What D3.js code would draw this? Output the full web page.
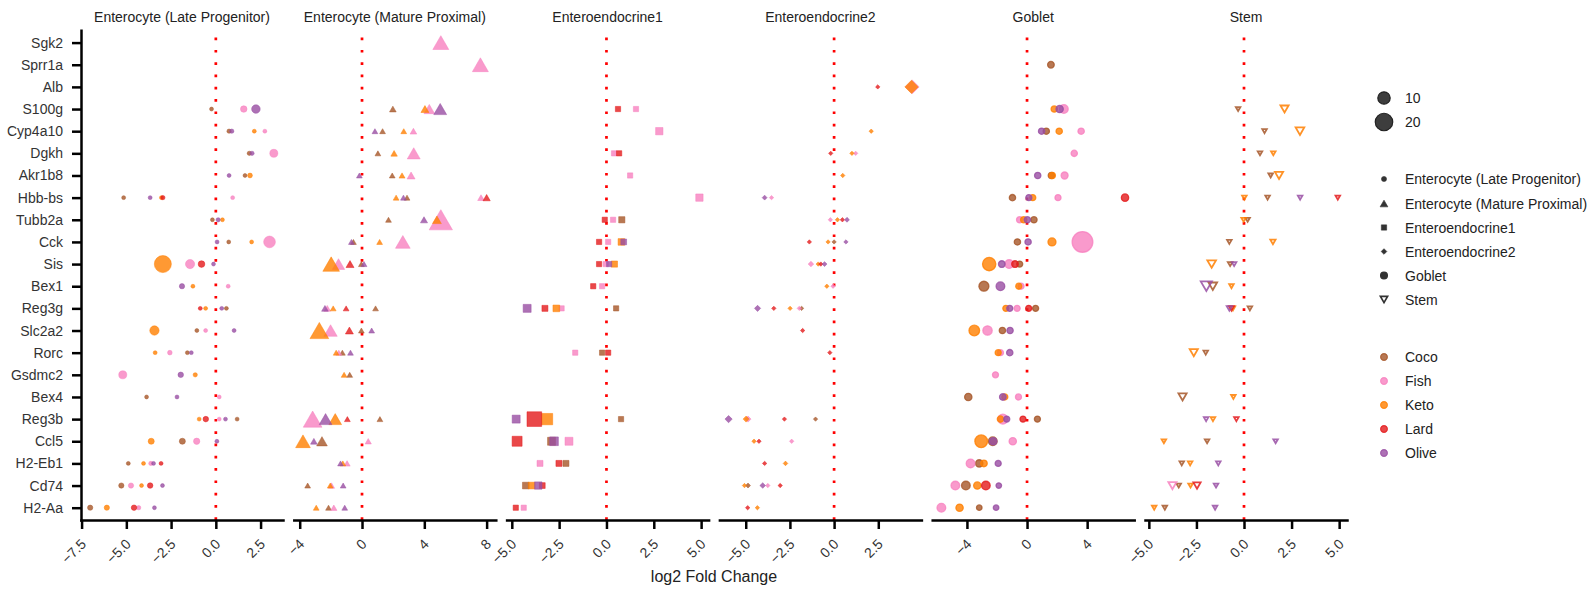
<!DOCTYPE html>
<html>
<head>
<meta charset="utf-8">
<script src="https://cdn.jsdelivr.net/npm/d3@7"></script>
<style>
  body { margin: 0; background: #fff; }
  text { font-family: "Liberation Sans", Arial, Helvetica, sans-serif; fill: #222; }
</style>
</head>
<body>
<svg id="chart" width="1589" height="592"></svg>
<script>
// ---- data ---------------------------------------------------------------
const genes = ["Sgk2","Sprr1a","Alb","S100g","Cyp4a10","Dgkh","Akr1b8","Hbb-bs","Tubb2a","Cck","Sis",
  "Bex1","Reg3g","Slc2a2","Rorc","Gsdmc2","Bex4","Reg3b","Ccl5","H2-Eb1","Cd74","H2-Aa"];
const diets = ["Coco","Fish","Keto","Lard","Olive"];
const dietColors = ["#a65628","#f781bf","#ff7f00","#e41a1c","#984ea3"];
const cellTypes = ["Enterocyte (Late Progenitor)","Enterocyte (Mature Proximal)","Enteroendocrine1",
  "Enteroendocrine2","Goblet","Stem"];
const sizeLegendValues = [10, 20];
const xTickValues = [
  [-7.5,-5,-2.5,0,2.5],
  [-4,0,4,8],
  [-5,-2.5,0,2.5,5],
  [-5,-2.5,0,2.5],
  [-4,0,4],
  [-5,-2.5,0,2.5,5]
];
const xAxisTitle = "log2 Fold Change";

// rows: [gene, diet, log2 fold change, size]
const lateProgenitor = [
  ["S100g","Coco",-0.24,1.0],["S100g","Fish",1.56,2.8],["S100g","Olive",2.24,4.8],
  ["Cyp4a10","Coco",0.74,1.2],["Cyp4a10","Olive",0.89,1.2],["Cyp4a10","Keto",2.15,1.0],["Cyp4a10","Fish",2.74,1.0],
  ["Dgkh","Coco",1.87,1.2],["Dgkh","Olive",2.02,1.2],["Dgkh","Fish",3.24,4.2],
  ["Akr1b8","Olive",0.74,1.0],["Akr1b8","Coco",1.63,1.0],["Akr1b8","Keto",1.91,1.5],
  ["Hbb-bs","Coco",-5.15,1.0],["Hbb-bs","Olive",-3.67,1.0],["Hbb-bs","Keto",-3.04,1.0],["Hbb-bs","Lard",-2.96,1.2],["Hbb-bs","Fish",0.94,1.0],
  ["Tubb2a","Coco",-0.19,1.0],["Tubb2a","Olive",0.13,1.2],["Tubb2a","Keto",0.37,1.0],
  ["Cck","Olive",0.07,1.0],["Cck","Coco",0.72,1.0],["Cck","Keto",2.0,1.0],["Cck","Fish",3.0,9.0],
  ["Sis","Keto",-2.96,19],["Sis","Fish",-1.44,5.5],["Sis","Lard",-0.8,2.9],["Sis","Olive",-0.13,1.0],
  ["Bex1","Olive",-1.89,1.8],["Bex1","Keto",-1.28,1.0],["Bex1","Fish",0.69,1.0],
  ["Reg3g","Lard",-0.87,1.0],["Reg3g","Keto",-0.57,1.0],["Reg3g","Olive",0.33,1.0],["Reg3g","Coco",0.59,1.0],
  ["Slc2a2","Keto",-3.43,5.7],["Slc2a2","Coco",-1.06,1.0],["Slc2a2","Fish",-0.57,1.0],["Slc2a2","Olive",1.02,1.0],
  ["Rorc","Keto",-3.39,1.0],["Rorc","Fish",-2.57,1.4],["Rorc","Coco",-1.59,1.0],["Rorc","Olive",-1.37,1.0],
  ["Gsdmc2","Fish",-5.2,4.2],["Gsdmc2","Olive",-1.96,2.0],["Gsdmc2","Keto",-1.15,1.2],
  ["Bex4","Coco",-3.87,1.0],["Bex4","Olive",-2.17,1.0],["Bex4","Fish",0.19,1.0],
  ["Reg3b","Keto",-0.93,1.0],["Reg3b","Lard",-0.56,2.0],["Reg3b","Fish",0.19,1.0],["Reg3b","Olive",0.54,1.0],["Reg3b","Coco",1.19,1.0],
  ["Ccl5","Keto",-3.61,2.4],["Ccl5","Coco",-1.87,2.4],["Ccl5","Fish",-1.07,2.6],["Ccl5","Olive",0.06,1.0],
  ["H2-Eb1","Coco",-4.89,1.0],["H2-Eb1","Keto",-4.04,1.0],["H2-Eb1","Fish",-3.63,1.2],["H2-Eb1","Olive",-3.48,1.0],["H2-Eb1","Lard",-3.06,1.0],
  ["Cd74","Coco",-5.28,1.8],["Cd74","Fish",-4.74,1.8],["Cd74","Keto",-4.15,1.0],["Cd74","Lard",-3.67,2.0],["Cd74","Olive",-2.98,1.0],
  ["H2-Aa","Coco",-7.02,1.8],["H2-Aa","Keto",-6.09,1.8],["H2-Aa","Lard",-4.57,2.0],["H2-Aa","Fish",-4.31,1.2],["H2-Aa","Olive",-3.43,1.0]
];

const matureProximal = [
  ["Sgk2","Fish",5.06,9.2],
  ["Sprr1a","Fish",7.6,9.2],
  ["S100g","Coco",1.98,1.6],["S100g","Keto",4.04,2.3],["S100g","Fish",4.32,4.1],["S100g","Olive",5.02,6.0],
  ["Cyp4a10","Olive",0.83,1.2],["Cyp4a10","Coco",1.32,1.2],["Cyp4a10","Keto",2.68,1.2],["Cyp4a10","Fish",3.3,1.6],
  ["Dgkh","Coco",1.02,1.2],["Dgkh","Keto",2.06,1.5],["Dgkh","Fish",3.32,6.0],
  ["Akr1b8","Olive",-0.17,1.2],["Akr1b8","Coco",1.94,1.2],["Akr1b8","Keto",2.57,1.3],["Akr1b8","Fish",3.15,2.3],
  ["Hbb-bs","Keto",2.19,1.2],["Hbb-bs","Olive",2.66,1.2],["Hbb-bs","Coco",2.89,1.2],["Hbb-bs","Fish",7.64,1.6],["Hbb-bs","Lard",8.0,1.9],
  ["Tubb2a","Coco",1.7,1.2],["Tubb2a","Olive",3.98,1.8],["Tubb2a","Fish",5.06,19.6],["Tubb2a","Keto",4.81,2.8],
  ["Cck","Olive",-0.68,1.2],["Cck","Coco",-0.55,1.2],["Cck","Keto",1.13,1.2],["Cck","Fish",2.62,7.8],
  ["Sis","Keto",-1.98,10],["Sis","Fish",-1.51,5.5],["Sis","Lard",-0.77,2.3],["Sis","Coco",-0.04,1.2],["Sis","Olive",0.13,1.2],
  ["Reg3g","Olive",-2.38,1.6],["Reg3g","Fish",-2.23,1.6],["Reg3g","Keto",-1.85,1.2],["Reg3g","Lard",-1.02,1.2],["Reg3g","Coco",0.87,1.2],
  ["Slc2a2","Keto",-2.74,12.6],["Slc2a2","Fish",-2.02,6.4],["Slc2a2","Lard",-0.81,2.3],["Slc2a2","Coco",-0.04,1.2],["Slc2a2","Olive",0.62,1.2],
  ["Rorc","Keto",-1.66,1.2],["Rorc","Fish",-1.49,1.2],["Rorc","Coco",-1.26,1.2],["Rorc","Olive",-0.74,1.2],
  ["Gsdmc2","Keto",-1.15,1.2],["Gsdmc2","Coco",-0.79,1.2],
  ["Reg3b","Fish",-3.17,12.6],["Reg3b","Olive",-2.34,5.8],["Reg3b","Keto",-1.72,5.8],["Reg3b","Lard",-0.94,1.2],["Reg3b","Coco",1.15,1.2],
  ["Ccl5","Keto",-3.79,7.8],["Ccl5","Olive",-3.09,1.6],["Ccl5","Coco",-2.57,4.1],["Ccl5","Fish",0.4,1.4],
  ["H2-Eb1","Olive",-1.38,1.2],["H2-Eb1","Keto",-1.23,1.2],["H2-Eb1","Fish",-0.96,1.4],
  ["Cd74","Coco",-3.49,1.2],["Cd74","Keto",-2.04,1.2],["Cd74","Fish",-1.96,1.4],["Cd74","Olive",-1.21,1.2],
  ["H2-Aa","Keto",-2.94,1.2],["H2-Aa","Coco",-2.15,1.2],["H2-Aa","Fish",-1.81,1.4],["H2-Aa","Olive",-1.11,1.2]
];

const enteroendocrine1 = [
  ["S100g","Lard",0.61,2.3],["S100g","Fish",1.56,2.3],
  ["Cyp4a10","Fish",2.79,4.5],
  ["Dgkh","Fish",0.4,2.3],["Dgkh","Lard",0.67,2.3],
  ["Akr1b8","Fish",1.25,2.3],
  ["Hbb-bs","Fish",4.91,4.5],
  ["Tubb2a","Lard",-0.09,2.3],["Tubb2a","Fish",0.35,2.3],["Tubb2a","Coco",0.81,3.2],
  ["Cck","Lard",-0.39,2.3],["Cck","Fish",0.09,2.3],["Cck","Keto",0.79,3.7],["Cck","Olive",0.91,2.8],
  ["Sis","Lard",-0.39,2.3],["Sis","Fish",-0.04,2.3],["Sis","Olive",0.14,2.3],["Sis","Keto",0.42,3.2],
  ["Bex1","Lard",-0.7,2.3],["Bex1","Fish",-0.23,2.3],
  ["Reg3g","Olive",-4.19,5.3],["Reg3g","Lard",-3.25,3.0],["Reg3g","Keto",-2.65,3.7],["Reg3g","Fish",-2.37,2.3],["Reg3g","Coco",0.51,2.3],
  ["Rorc","Fish",-1.65,2.3],["Rorc","Coco",-0.23,2.3],["Rorc","Lard",0.09,2.3],
  ["Reg3b","Olive",-4.77,5.3],["Reg3b","Lard",-3.81,18],["Reg3b","Keto",-3.14,10.7],["Reg3b","Coco",0.77,2.3],
  ["Ccl5","Lard",-4.72,8.3],["Ccl5","Coco",-2.9,5.3],["Ccl5","Olive",-2.77,6.3],["Ccl5","Fish",-1.98,5.3],
  ["H2-Eb1","Fish",-3.51,3.0],["H2-Eb1","Lard",-2.51,3.0],["H2-Eb1","Coco",-2.14,3.0],
  ["Cd74","Coco",-4.26,3.7],["Cd74","Keto",-3.95,3.7],["Cd74","Olive",-3.6,4.5],["Cd74","Lard",-3.39,2.8],
  ["H2-Aa","Lard",-4.79,2.3],["H2-Aa","Fish",-4.37,2.3]
];

const enteroendocrine2 = [
  ["Alb","Lard",2.47,0.8],["Alb","Fish",4.42,8.0],["Alb","Keto",4.38,7.4],
  ["Cyp4a10","Keto",2.1,0.8],
  ["Dgkh","Lard",-0.19,0.8],["Dgkh","Keto",1.01,0.8],["Dgkh","Fish",1.22,0.8],
  ["Akr1b8","Keto",0.49,0.8],
  ["Hbb-bs","Olive",-3.93,1.0],["Hbb-bs","Fish",-3.54,0.8],
  ["Tubb2a","Fish",-0.21,0.8],["Tubb2a","Keto",0.19,0.8],["Tubb2a","Lard",0.47,0.8],["Tubb2a","Olive",0.73,1.0],
  ["Cck","Lard",-1.4,0.8],["Cck","Keto",-0.34,0.8],["Cck","Coco",0.0,0.8],["Cck","Olive",0.67,0.8],
  ["Sis","Fish",-1.31,1.3],["Sis","Keto",-0.9,0.8],["Sis","Lard",-0.75,0.8],["Sis","Olive",-0.54,1.0],
  ["Bex1","Keto",-0.41,0.8],["Bex1","Fish",-0.06,0.8],
  ["Reg3g","Olive",-4.33,1.6],["Reg3g","Lard",-3.41,0.8],["Reg3g","Keto",-2.49,0.8],["Reg3g","Fish",-1.97,0.8],["Reg3g","Coco",-1.84,0.8],
  ["Slc2a2","Lard",-1.78,0.8],
  ["Rorc","Lard",-0.24,0.8],
  ["Reg3b","Olive",-5.97,2.2],["Reg3b","Keto",-4.98,1.5],["Reg3b","Fish",-4.87,1.5],["Reg3b","Lard",-2.81,0.8],["Reg3b","Coco",-1.05,0.8],
  ["Ccl5","Keto",-4.53,0.8],["Ccl5","Lard",-4.25,0.8],["Ccl5","Fish",-2.4,0.8],
  ["H2-Eb1","Lard",-3.93,0.8],["H2-Eb1","Keto",-2.75,0.9],
  ["Cd74","Keto",-5.07,0.8],["Cd74","Coco",-4.87,1.0],["Cd74","Olive",-4.04,1.3],["Cd74","Fish",-3.75,0.8],["Cd74","Lard",-3.05,0.8],
  ["H2-Aa","Lard",-4.89,0.8],["H2-Aa","Keto",-4.34,0.8]
];

const goblet = [
  ["Sprr1a","Coco",1.59,2.9],
  ["S100g","Keto",1.81,2.6],["S100g","Olive",2.17,3.5],["S100g","Fish",2.45,4.9],
  ["Cyp4a10","Olive",0.97,2.6],["Cyp4a10","Coco",1.28,2.6],["Cyp4a10","Keto",2.14,2.6],["Cyp4a10","Fish",3.6,2.6],
  ["Dgkh","Fish",3.14,2.6],
  ["Akr1b8","Olive",0.71,2.6],["Akr1b8","Coco",1.62,2.6],["Akr1b8","Keto",1.68,2.6],["Akr1b8","Fish",2.5,3.2],
  ["Hbb-bs","Coco",-0.97,2.6],["Hbb-bs","Olive",0.12,2.4],["Hbb-bs","Keto",0.38,2.4],["Hbb-bs","Fish",2.06,2.4],["Hbb-bs","Lard",6.52,3.5],
  ["Tubb2a","Fish",-0.49,2.6],["Tubb2a","Keto",-0.22,2.6],["Tubb2a","Olive",0.02,2.6],["Tubb2a","Coco",0.46,2.6],
  ["Cck","Coco",-0.64,2.6],["Cck","Olive",0.07,2.6],["Cck","Keto",1.66,4.2],["Cck","Fish",3.69,28],
  ["Sis","Keto",-2.52,11.6],["Sis","Olive",-1.68,2.9],["Sis","Fish",-1.19,4.9],["Sis","Lard",-0.8,2.9],["Sis","Coco",-0.49,2.4],
  ["Bex1","Coco",-2.87,6.5],["Bex1","Olive",-1.77,4.9],["Bex1","Keto",-0.55,2.4],["Bex1","Fish",-0.4,2.4],
  ["Reg3g","Keto",-1.41,2.4],["Reg3g","Olive",-1.15,2.4],["Reg3g","Fish",-0.66,2.4],["Reg3g","Lard",0.11,2.4],["Reg3g","Coco",0.57,2.4],
  ["Slc2a2","Keto",-3.51,7.4],["Slc2a2","Fish",-2.63,5.7],["Slc2a2","Coco",-1.64,2.6],["Slc2a2","Olive",-1.13,2.6],
  ["Rorc","Keto",-1.92,2.4],["Rorc","Fish",-1.77,2.4],["Rorc","Olive",-1.15,2.6],
  ["Gsdmc2","Fish",-2.1,2.4],
  ["Bex4","Coco",-3.91,3.5],["Bex4","Olive",-1.61,2.9],["Bex4","Keto",-1.48,2.4],["Bex4","Fish",-0.57,2.4],
  ["Reg3b","Fish",-1.61,6.5],["Reg3b","Keto",-1.77,2.6],["Reg3b","Olive",-1.35,2.4],["Reg3b","Lard",-0.27,2.4],["Reg3b","Coco",0.69,2.4],
  ["Ccl5","Keto",-3.05,10.5],["Ccl5","Coco",-2.28,4.9],["Ccl5","Olive",-2.25,3.5],["Ccl5","Fish",-0.95,3.5],
  ["H2-Eb1","Fish",-3.76,4.9],["H2-Eb1","Coco",-3.18,3.5],["H2-Eb1","Keto",-2.87,2.9],["H2-Eb1","Olive",-1.92,2.4],
  ["Cd74","Fish",-4.77,4.9],["Cd74","Coco",-4.07,4.9],["Cd74","Keto",-3.31,3.5],["Cd74","Lard",-2.74,4.9],["Cd74","Olive",-1.88,2.0],
  ["H2-Aa","Fish",-5.7,4.9],["H2-Aa","Keto",-4.49,3.5],["H2-Aa","Coco",-3.18,2.0],["H2-Aa","Olive",-2.06,2.0]
];

const stem = [
  ["S100g","Coco",-0.31,0.75],["S100g","Keto",2.13,2.4],
  ["Cyp4a10","Coco",1.08,0.75],["Cyp4a10","Keto",2.94,2.7],
  ["Dgkh","Coco",0.84,0.75],["Dgkh","Keto",1.54,0.75],
  ["Akr1b8","Coco",1.4,0.75],["Akr1b8","Keto",1.84,2.4],
  ["Hbb-bs","Keto",0.02,0.75],["Hbb-bs","Coco",1.24,0.75],["Hbb-bs","Olive",2.95,0.75],["Hbb-bs","Lard",4.93,0.75],
  ["Tubb2a","Keto",-0.02,0.75],["Tubb2a","Coco",0.19,0.75],
  ["Cck","Coco",-0.77,0.75],["Cck","Keto",1.52,1.0],
  ["Sis","Keto",-1.7,2.7],["Sis","Coco",-0.73,0.75],["Sis","Olive",-0.52,0.75],
  ["Bex1","Olive",-1.98,4.5],["Bex1","Coco",-1.64,2.7],["Bex1","Keto",-0.66,0.75],
  ["Reg3g","Olive",-0.77,1.0],["Reg3g","Lard",-0.66,1.0],["Reg3g","Keto",-0.58,0.75],["Reg3g","Coco",0.31,0.75],
  ["Rorc","Keto",-2.64,2.4],["Rorc","Coco",-2.01,0.75],
  ["Bex4","Coco",-3.23,2.4],["Bex4","Keto",-0.56,0.75],
  ["Reg3b","Olive",-1.99,0.75],["Reg3b","Keto",-1.63,0.75],["Reg3b","Lard",-0.4,0.75],
  ["Ccl5","Keto",-4.21,0.75],["Ccl5","Coco",-1.94,0.75],["Ccl5","Olive",1.66,0.75],
  ["H2-Eb1","Coco",-3.27,0.75],["H2-Eb1","Keto",-2.83,0.75],["H2-Eb1","Olive",-1.35,0.75],
  ["Cd74","Fish",-3.76,2.4],["Cd74","Coco",-3.43,0.75],["Cd74","Keto",-2.81,0.75],["Cd74","Lard",-2.47,1.9],["Cd74","Olive",-1.47,0.75],
  ["H2-Aa","Keto",-4.72,0.75],["H2-Aa","Coco",-4.16,0.75],["H2-Aa","Olive",-1.52,0.75]
];

// ---- marker shapes --------------------------------------------------------
const triUp = { draw(ctx, area) {           // triangle centred on its bounding box
  const w = Math.sqrt(area / 0.433), h = 0.866 * w;
  ctx.moveTo(0, -h / 2); ctx.lineTo(w / 2, h / 2); ctx.lineTo(-w / 2, h / 2); ctx.closePath();
}};
const triDown = { draw(ctx, area) {
  const w = Math.sqrt(area / 0.433), h = 0.866 * w;
  ctx.moveTo(0, h / 2); ctx.lineTo(w / 2, -h / 2); ctx.lineTo(-w / 2, -h / 2); ctx.closePath();
}};
const diamond = { draw(ctx, area) {         // square rotated by 45 degrees
  const r = Math.sqrt(area / 2);
  ctx.moveTo(0, -r); ctx.lineTo(r, 0); ctx.lineTo(0, r); ctx.lineTo(-r, 0); ctx.closePath();
}};

const panelStyles = [
  { type: d3.symbolCircle, filled: true,  sw: 0.6 },
  { type: triUp,           filled: true,  sw: 0.6 },
  { type: d3.symbolSquare, filled: true,  sw: 0.6 },
  { type: diamond,         filled: true,  sw: 0.6 },
  { type: d3.symbolCircle, filled: true,  sw: 1.3 },
  { type: triDown,         filled: false, sw: 1.8 }
];

// ---- layout -----------------------------------------------------------------
const svg = d3.select("#chart");
const panelLeft0 = 81, panelStep = 212.8, panelWidth = 202;
const plotTop = 30.3, plotBottom = 520;
const areaPerUnit = 12;                     // marker area (px^2) per unit of size
const dietColor = d3.scaleOrdinal().domain(diets).range(dietColors);
const yScale = d3.scalePoint().domain(genes).range([plotTop, plotBottom]).padding(0.555);

const panelData = [lateProgenitor, matureProximal, enteroendocrine1, enteroendocrine2, goblet, stem];

panelData.forEach((rows, i) => {
  const left = panelLeft0 + i * panelStep;
  const [lo, hi] = d3.extent(rows, d => d[2]);
  const pad = (hi - lo) * 0.05;
  const x = d3.scaleLinear().domain([lo - pad, hi + pad]).range([left, left + panelWidth]);
  const g = svg.append("g");
  const style = panelStyles[i];

  // facet title
  g.append("text")
    .attr("x", left + panelWidth / 2).attr("y", 22)
    .attr("text-anchor", "middle").style("font-size", "14px")
    .text(cellTypes[i]);

  // zero reference line
  g.append("line")
    .attr("x1", x(0)).attr("x2", x(0))
    .attr("y1", plotBottom).attr("y2", plotTop)
    .attr("stroke", "#ff0000").attr("stroke-width", 2.7)
    .attr("stroke-dasharray", "2.7 9.6");

  // points, drawn diet by diet
  const sorted = rows.slice().sort((a, b) => diets.indexOf(a[1]) - diets.indexOf(b[1]));
  g.append("g").selectAll("path").data(sorted).join("path")
    .attr("transform", d => `translate(${x(d[2])},${yScale(d[0])})`)
    .attr("d", d => d3.symbol(style.type, d[3] * areaPerUnit)())
    .attr("fill", d => style.filled ? dietColor(d[1]) : "none")
    .attr("fill-opacity", 0.8)
    .attr("stroke", d => dietColor(d[1]))
    .attr("stroke-opacity", style.filled ? 0.8 : 0.85)
    .attr("stroke-width", style.sw)
    .attr("stroke-linejoin", "miter");

  // x axis
  const fmt = xTickValues[i].every(v => Number.isInteger(v)) ? d3.format("d") : d3.format(".1f");
  const ax = g.append("g")
    .attr("transform", `translate(0,${plotBottom})`)
    .call(d3.axisBottom(x).tickValues(xTickValues[i]).tickFormat(fmt).tickSize(9).tickSizeOuter(0));
  ax.select(".domain").attr("stroke", "#000").attr("stroke-width", 2.5).attr("stroke-linecap", "square");
  ax.selectAll(".tick line").attr("stroke", "#000").attr("stroke-width", 2.5);
  ax.selectAll(".tick text")
    .attr("x", 0).attr("y", 0).attr("dy", 0)
    .attr("text-anchor", "end")
    .attr("transform", "translate(5,25) rotate(-45)")
    .style("font-size", "14px").style("fill", "#333");

  // y axis on the first facet only
  if (i === 0) {
    const ay = g.append("g")
      .attr("transform", `translate(${left},0)`)
      .call(d3.axisLeft(yScale).tickSize(9).tickPadding(9).tickSizeOuter(0));
    ay.select(".domain").attr("stroke", "#000").attr("stroke-width", 2.5).attr("stroke-linecap", "square");
    ay.selectAll(".tick line").attr("stroke", "#000").attr("stroke-width", 2.5);
    ay.selectAll(".tick text").style("font-size", "14px").style("fill", "#333");
  }
});

// shared x-axis title
svg.append("text")
  .attr("x", (panelLeft0 + panelLeft0 + 5 * panelStep + panelWidth) / 2)
  .attr("y", 582)
  .attr("text-anchor", "middle").style("font-size", "16px")
  .text(xAxisTitle);

// ---- legend ----------------------------------------------------------------
const legend = svg.append("g");
const markX = 1384, labelX = 1405;
function legendLabel(yPos, txt) {
  legend.append("text").attr("x", labelX).attr("y", yPos)
    .attr("dominant-baseline", "central").style("font-size", "14px").text(txt);
}

// size entries
const sizeRowsY = [98, 122];
sizeLegendValues.forEach((v, k) => {
  legend.append("path")
    .attr("transform", `translate(${markX},${sizeRowsY[k]})`)
    .attr("d", d3.symbol(d3.symbolCircle, v * areaPerUnit)())
    .attr("fill", "#333").attr("fill-opacity", 0.95)
    .attr("stroke", "#222").attr("stroke-width", 1.2);
  legendLabel(sizeRowsY[k], String(v));
});

// cell type entries
const styleRowsY = [179, 203.5, 227.5, 251.5, 275.5, 299.5];
const styleMarkerArea = [20, 26, 28, 16, 36, 22];
cellTypes.forEach((ct, k) => {
  const st = panelStyles[k];
  legend.append("path")
    .attr("transform", `translate(${markX},${styleRowsY[k]})`)
    .attr("d", d3.symbol(st.type, styleMarkerArea[k])())
    .attr("fill", st.filled ? "#333" : "none")
    .attr("stroke", "#333")
    .attr("stroke-width", st.filled ? (k === 4 ? 1.3 : 0.6) : 1.7);
  legendLabel(styleRowsY[k], ct);
});

// diet entries
const dietRowsY = [357, 381, 405, 429, 453];
diets.forEach((dt, k) => {
  legend.append("path")
    .attr("transform", `translate(${markX},${dietRowsY[k]})`)
    .attr("d", d3.symbol(d3.symbolCircle, 36)())
    .attr("fill", dietColor(dt)).attr("fill-opacity", 0.8)
    .attr("stroke", dietColor(dt)).attr("stroke-opacity", 0.8).attr("stroke-width", 1.2);
  legendLabel(dietRowsY[k], dt);
});
</script>
</body>
</html>
